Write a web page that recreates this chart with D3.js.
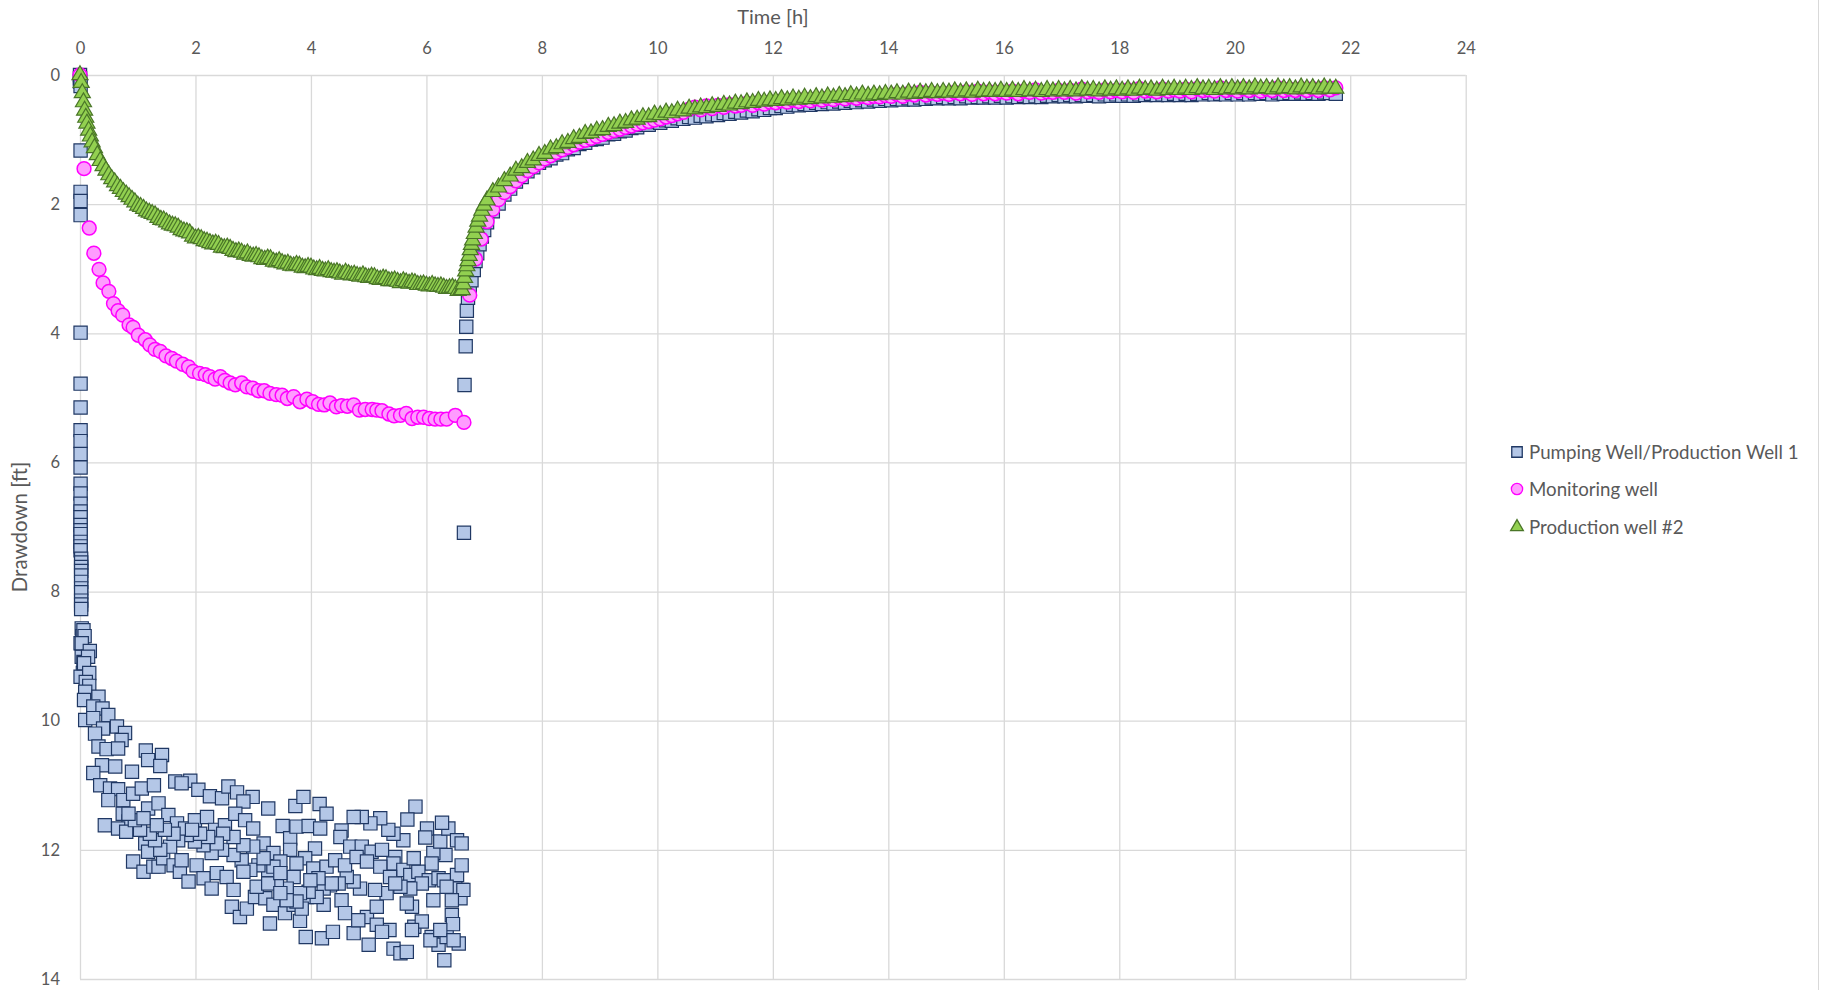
<!DOCTYPE html>
<html>
<head>
<meta charset="utf-8">
<script src="https://cdn.jsdelivr.net/npm/d3@7"></script>
<style>
  body { margin: 0; background: #fff; }
  text { font-family: Lato, "Open Sans", sans-serif; fill: #595959; }
</style>
</head>
<body>
<div id="chart"></div>
<script>
// axis ticks
var xTicks = [0, 2, 4, 6, 8, 10, 12, 14, 16, 18, 20, 22, 24];
var yTicks = [0, 2, 4, 6, 8, 10, 12, 14];

// Pumping well / production well 1 : [time h, drawdown ft]
var pumpEarly = [[0,0],[0,0.05],[0,0.1],[0.01,0.17],[0.01,1.17],[0.01,1.81],[0.01,1.95],[0.01,2.17],[0.01,3.99],
  [0.01,4.78],[0.01,5.15],[0.01,5.5],[0.01,5.67],[0.01,5.87],[0.01,6.08],[0.01,6.33],[0.01,6.48],[0.01,6.64],
  [0.01,6.76],[0.01,6.85],[0.01,6.97],[0.01,7.05],[0.01,7.11],[0.01,7.23],[0.01,7.3],[0.01,7.36],[0.02,7.49],
  [0.02,7.55],[0.02,7.62],[0.02,7.68],[0.02,7.75],[0.02,7.85],[0.02,7.95],[0.02,8.01],[0.02,8.14],[0.02,8.2],
  [0.02,8.27],[0.03,8.57],[0.04,8.69],[0.01,8.8],[0.06,8.92],[0.03,9.01],[0.06,9.09],[0.05,9.26],[0.01,9.32]];

var pumpCloud = [[0.06,8.6],[0.08,8.69],[0.03,8.8],[0.17,8.92],[0.14,9.01],[0.07,9.11],[0.16,9.26],[0.1,9.4],
  [0.16,9.46],[0.09,9.55],[0.32,9.63],[0.07,9.68],[0.23,9.78],[0.39,9.81],[0.49,9.91],[0.09,9.99],[0.23,9.96],
  [0.4,10.12],[0.64,10.09],[0.78,10.19],[0.72,10.3],[0.26,10.2],[0.32,10.4],[0.46,10.44],[0.66,10.43],[0.38,10.69],
  [0.61,10.71],[0.9,10.79],[0.23,10.81],[0.35,11],[0.52,11.05],[0.66,11.06],[0.49,11.23],[0.75,11.23],[0.92,11.13],
  [1.07,11.05],[1.28,11],[1.14,10.46],[1.18,10.61],[1.42,10.53],[1.39,10.7],[1.65,10.94],[1.91,10.93],[1.76,10.97],
  [2.05,11.07],[2.25,11.17],[2.46,11.2],[2.57,11.02],[2.72,11.11],[2.99,11.18],[2.83,11.25],[3.26,11.36],[3.73,11.32],
  [3.87,11.18],[4.15,11.29],[4.27,11.44],[0.74,11.44],[0.84,11.56],[0.98,11.67],[0.43,11.62],[0.66,11.67],[0.8,11.72],
  [1.13,11.9],[1.18,12.03],[0.92,12.18],[1.1,12.34],[1.27,12.26],[1.36,12.26],[1.44,12.13],[1.62,12.24],[1.73,12.34],
  [1.88,12.49],[2.02,12.24],[2.14,12.44],[2.28,12.6],[2.37,12.36],[2.54,12.42],[2.66,12.62],[2.63,12.88],[2.77,13.04],
  [2.89,12.91],[3.03,12.73],[3.21,12.75],[3.35,12.85],[3.29,13.14],[3.55,12.98],[3.7,12.85],[3.81,13.1],[3.93,12.73],
  [3.84,12.91],[3.91,13.35],[4.19,13.37],[4.38,13.27],[4.22,12.85],[4.53,12.78],[4.74,13.29],[5,13.47],[4.97,13.04],
  [5.14,12.88],[5.36,13.24],[5.43,13.53],[5.55,13.6],[5.66,13.58],[5.75,12.88],[5.79,13.19],[5.92,13.11],[6.09,13.35],
  [6.21,13.47],[6.31,13.71],[6.35,13.35],[6.44,13.01],[6.46,13.15],[6.56,13.45],[6.59,12.75],[6.61,12.62],[6.53,12.39],
  [6.61,12.24],[6.33,12.08],[6.12,12.05],[6.09,12.21],[6.24,11.87],[6.38,11.67],[6.27,11.58],[6.01,11.67],[5.98,11.81],
  [6.53,11.85],[6.61,11.9],[5.81,11.33],[5.67,11.53],[5.6,11.85],[5.43,11.75],[5.34,11.69],[5.2,11.51],[5.03,11.59],
  [4.88,11.49],[4.74,11.49],[4.53,11.7],[4.51,11.8],[4.68,11.95],[4.88,11.95],[5.05,12.03],[5.23,12],[5.46,12.11],
  [5.43,12.21],[5.6,12.31],[5.72,12.39],[5.86,12.34],[6.04,12.47],[6.21,12.44],[6.3,12.47],[6.5,12.6],[6.64,12.62],
  [5.92,12.52],[5.72,12.6],[5.55,12.57],[5.31,12.67],[5.11,12.62],[4.85,12.6],[4.74,12.49],[4.62,12.42],[4.48,12.52],
  [4.33,12.55],[4.22,12.6],[4.1,12.73],[3.96,12.65],[3.81,12.67],[3.7,12.42],[3.58,12.6],[3.41,12.47],[3.26,12.31],
  [3.09,12.24],[2.95,12.31],[2.8,12.16],[2.66,12.08],[2.46,12],[2.28,12.05],[2.14,11.93],[1.99,11.87],[1.85,11.77],
  [1.7,11.85],[1.56,11.95],[1.39,12],[1.3,11.85],[1.21,11.75],[1.04,11.69],[0.95,11.54],[0.84,11.44],[1.18,11.36],
  [1.36,11.28],[1.53,11.46],[1.68,11.59],[1.82,11.67],[1.99,11.54],[2.2,11.49],[2.34,11.69],[2.51,11.62],[2.69,11.44],
  [2.86,11.54],[3,11.67],[3.18,11.9],[3.35,12.05],[3.51,11.63],[3.64,11.82],[3.75,11.64],[3.96,11.63],[4.16,11.67],
  [4.07,11.98],[3.9,12.13],[3.75,12.21],[3.64,12],[3.47,12.18],[3.35,12.26],[3.18,12.13],[3,11.95],[2.83,11.93],
  [2.66,11.8],[2.48,11.75],[2.37,11.9],[2.22,11.8],[2.08,11.75],[1.94,11.69],[1.76,12.16],[1.62,11.75],[1.47,11.69],
  [1.33,11.62],[1.1,11.51],[2.83,12.34],[3.06,12.57],[3.26,12.52],[3.47,12.36],[4.04,12.29],[4.27,12.26],[4.42,12.16],
  [4.59,12.24],[4.79,12.11],[4.97,12.18],[5.2,12.26],[5.37,12.42],[5.46,12.52],[5.78,12.13],[6.12,12.78],[6.44,12.78],
  [6.35,12.57],[5.66,12.83],[5.75,13.24],[6.07,13.4],[6.24,13.24],[6.47,13.4],[4.59,12.98],[4.82,13.09],[5.14,13.16],
  [5.23,13.27],[4.36,12.52],[4.13,12.44],[3.99,12.47],[3.75,12.8],[3.58,12.78],[3.47,12.67]];

var pumpStep = [[6.65,7.09],[6.66,4.8],[6.68,4.2],[6.69,3.9],[6.7,3.65],[6.72,3.45],[6.75,3.33],[6.78,3.18],
  [6.82,3.02],[6.85,2.88],[6.88,2.76],[6.92,2.62],[6.96,2.5],[7,2.4]];

// Monitoring well
var monDrawdown = [[0,0],[0.07,1.45],[0.16,2.37],[0.24,2.76],[0.33,3.01],[0.4,3.22],[0.5,3.35],[0.58,3.54],
  [0.66,3.65],[0.74,3.72],[0.85,3.87],[0.92,3.91],[1.01,4.03],[1.13,4.1],[1.21,4.18],[1.3,4.25],[1.39,4.28],
  [1.49,4.35],[1.59,4.39],[1.67,4.43],[1.78,4.48],[1.88,4.52],[1.96,4.59],[2.07,4.62],[2.17,4.64],[2.25,4.67],
  [2.34,4.71],[2.43,4.67],[2.51,4.73],[2.6,4.77],[2.69,4.8],[2.8,4.77],[2.89,4.83],[2.99,4.85],[3.09,4.89],
  [3.19,4.89],[3.29,4.93],[3.4,4.95],[3.5,4.96],[3.59,5.01],[3.7,4.98],[3.81,5.06],[3.93,5.02],[4.03,5.06],
  [4.13,5.1],[4.23,5.11],[4.33,5.08],[4.44,5.14],[4.53,5.12],[4.63,5.13],[4.74,5.11],[4.84,5.19],[4.94,5.18],
  [5.06,5.18],[5.14,5.19],[5.23,5.2],[5.35,5.25],[5.44,5.28],[5.55,5.27],[5.65,5.24],[5.75,5.32],[5.85,5.3],
  [5.95,5.3],[6.05,5.32],[6.15,5.33],[6.25,5.33],[6.35,5.33],[6.5,5.27],[6.65,5.38]];
var monStep = [[6.75,3.41],[6.85,2.85],[6.95,2.54]];

// Production well #2
var prodDrawdown = [[0,0],[0.02,0.12],[0.04,0.28],[0.06,0.42],[0.08,0.55],[0.1,0.66],[0.12,0.75],[0.15,0.86],
  [0.18,0.95],[0.21,1.04],[0.25,1.13],[0.3,1.24],[0.35,1.33],[0.4,1.41],[0.45,1.48],[0.5,1.55],[0.55,1.61],
  [0.6,1.66],[0.65,1.72],[0.7,1.76],[0.75,1.81],[0.8,1.85],[0.85,1.89],[0.9,1.93],[0.95,1.97],[1,2.02],[1.05,2.04],
  [1.1,2.07],[1.15,2.11],[1.2,2.13],[1.25,2.15],[1.3,2.17],[1.35,2.21],[1.4,2.24],[1.45,2.25],[1.5,2.28],[1.55,2.31],
  [1.6,2.33],[1.65,2.34],[1.7,2.36],[1.75,2.4],[1.8,2.42],[1.85,2.43],[1.9,2.45],[1.95,2.5],[2,2.53],[2.05,2.52],
  [2.1,2.54],[2.15,2.57],[2.2,2.58],[2.25,2.6],[2.3,2.62],[2.35,2.61],[2.4,2.63],[2.45,2.67],[2.5,2.68],[2.55,2.67],
  [2.6,2.69],[2.65,2.72],[2.7,2.74],[2.75,2.73],[2.8,2.75],[2.85,2.78],[2.9,2.76],[2.95,2.8],[3,2.81],[3.05,2.8],
  [3.1,2.82],[3.15,2.85],[3.2,2.86],[3.25,2.84],[3.3,2.85],[3.35,2.89],[3.4,2.9],[3.45,2.88],[3.5,2.91],[3.55,2.93],
  [3.6,2.92],[3.65,2.95],[3.7,2.96],[3.75,2.94],[3.8,2.95],[3.85,2.98],[3.9,2.99],[3.95,2.97],[4,2.98],[4.05,3.01],
  [4.1,3.02],[4.15,3],[4.2,3.03],[4.25,3.04],[4.3,3.02],[4.35,3.05],[4.4,3.06],[4.45,3.05],[4.5,3.07],[4.55,3.09],
  [4.6,3.06],[4.65,3.08],[4.7,3.1],[4.75,3.09],[4.8,3.11],[4.85,3.12],[4.9,3.1],[4.95,3.13],[5,3.14],[5.05,3.12],
  [5.1,3.13],[5.15,3.16],[5.2,3.17],[5.25,3.15],[5.3,3.16],[5.35,3.19],[5.4,3.19],[5.45,3.18],[5.5,3.2],[5.55,3.22],
  [5.6,3.19],[5.65,3.21],[5.7,3.23],[5.75,3.21],[5.8,3.22],[5.85,3.25],[5.9,3.25],[5.95,3.24],[6,3.26],[6.05,3.27],
  [6.1,3.25],[6.15,3.27],[6.2,3.28],[6.25,3.27],[6.3,3.29],[6.35,3.31],[6.4,3.3],[6.45,3.29],[6.5,3.31],[6.55,3.34],
  [6.6,3.33]];
var prodStep = [[6.62,3.33],[6.64,3.24],[6.66,3.14],[6.68,3.04],[6.7,2.96],[6.72,2.88],[6.74,2.8],[6.76,2.71],
  [6.78,2.63],[6.8,2.56],[6.83,2.46],[6.86,2.36],[6.89,2.27],[6.92,2.19],[6.96,2.1],[7,2.02]];

// recovery, shared time base
var recoveryTime = [7.05,7.15,7.25,7.35,7.45,7.55,7.65,7.75,7.85,7.95,
  8.05,8.15,8.25,8.35,8.45,8.55,8.65,8.75,8.85,8.95, 9.05,9.15,9.25,9.35,9.45,9.55,9.65,9.75,9.85,9.95,
  10.05,10.15,10.25,10.35,10.45,10.55,10.65,10.75,10.85,10.95, 11.05,11.15,11.25,11.35,11.45,11.55,11.65,11.75,11.85,11.95,
  12.05,12.15,12.25,12.35,12.45,12.55,12.65,12.75,12.85,12.95, 13.05,13.15,13.25,13.35,13.45,13.55,13.65,13.75,13.85,13.95,
  14.05,14.15,14.25,14.35,14.45,14.55,14.65,14.75,14.85,14.95, 15.05,15.15,15.25,15.35,15.45,15.55,15.65,15.75,15.85,15.95,
  16.05,16.15,16.25,16.35,16.45,16.55,16.65,16.75,16.85,16.95, 17.05,17.15,17.25,17.35,17.45,17.55,17.65,17.75,17.85,17.95,
  18.05,18.15,18.25,18.35,18.45,18.55,18.65,18.75,18.85,18.95, 19.05,19.15,19.25,19.35,19.45,19.55,19.65,19.75,19.85,19.95,
  20.05,20.15,20.25,20.35,20.45,20.55,20.65,20.75,20.85,20.95, 21.05,21.15,21.25,21.35,21.45,21.55,21.65,21.75];

var pumpRecovery = [2.28,2.11,1.99,1.85,1.76,1.65,1.58,1.49,1.43,1.36,
  1.32,1.29,1.23,1.21,1.15,1.13,1.07,1.05,1,0.99, 0.97,0.92,0.91,0.87,0.86,0.82,0.81,0.77,0.77,0.73,
  0.74,0.7,0.71,0.67,0.68,0.65,0.66,0.63,0.64,0.61, 0.62,0.59,0.6,0.57,0.58,0.55,0.56,0.53,0.54,0.51,
  0.51,0.48,0.49,0.46,0.47,0.45,0.46,0.43,0.45,0.42, 0.44,0.41,0.43,0.4,0.42,0.39,0.41,0.38,0.4,0.37,
  0.39,0.37,0.38,0.36,0.38,0.35,0.37,0.35,0.36,0.34, 0.36,0.34,0.36,0.33,0.35,0.34,0.35,0.33,0.35,0.32,
  0.35,0.33,0.34,0.32,0.34,0.33,0.34,0.32,0.33,0.31, 0.33,0.31,0.33,0.31,0.32,0.31,0.33,0.3,0.32,0.3,
  0.32,0.3,0.32,0.3,0.31,0.29,0.31,0.3,0.31,0.29, 0.31,0.29,0.31,0.29,0.3,0.28,0.3,0.29,0.3,0.28,
  0.3,0.28,0.3,0.28,0.29,0.28,0.3,0.27,0.29,0.28, 0.29,0.27,0.29,0.28,0.29,0.27,0.28,0.29];

var monRecovery = [2.27,2.08,1.93,1.82,1.73,1.64,1.56,1.48,1.42,1.36,
  1.3,1.25,1.2,1.16,1.12,1.08,1.04,1.01,0.98,0.95, 0.92,0.89,0.86,0.84,0.81,0.79,0.76,0.74,0.72,0.7,
  0.68,0.65,0.63,0.6,0.58,0.53,0.5,0.54,0.48,0.52, 0.47,0.5,0.46,0.48,0.47,0.44,0.47,0.43,0.45,0.42,
  0.43,0.4,0.42,0.39,0.41,0.38,0.4,0.37,0.39,0.36, 0.38,0.35,0.37,0.34,0.36,0.33,0.35,0.33,0.34,0.32,
  0.33,0.3,0.33,0.29,0.31,0.27,0.31,0.28,0.3,0.28, 0.3,0.27,0.29,0.26,0.3,0.25,0.29,0.26,0.29,0.26,
  0.28,0.25,0.29,0.25,0.27,0.23,0.28,0.26,0.27,0.24, 0.27,0.24,0.28,0.22,0.26,0.25,0.27,0.23,0.26,0.24,
  0.26,0.23,0.27,0.21,0.25,0.24,0.26,0.22,0.25,0.23, 0.25,0.22,0.26,0.21,0.24,0.23,0.25,0.2,0.24,0.22,
  0.25,0.21,0.24,0.21,0.25,0.22,0.24,0.2,0.24,0.22, 0.24,0.21,0.24,0.21,0.24,0.2,0.23,0.2];

var prodRecovery = [1.94,1.81,1.74,1.64,1.57,1.48,1.44,1.36,1.32,1.25,
  1.22,1.15,1.13,1.07,1.05,0.99,0.97,0.91,0.9,0.86, 0.85,0.8,0.79,0.75,0.74,0.7,0.69,0.65,0.65,0.61,
  0.62,0.58,0.59,0.55,0.56,0.52,0.53,0.5,0.51,0.48, 0.49,0.46,0.47,0.44,0.45,0.42,0.43,0.4,0.41,0.39,
  0.4,0.37,0.39,0.36,0.38,0.35,0.37,0.34,0.36,0.33, 0.35,0.32,0.34,0.31,0.33,0.3,0.32,0.3,0.31,0.29,
  0.3,0.28,0.3,0.27,0.29,0.27,0.28,0.26,0.28,0.26, 0.27,0.25,0.27,0.25,0.27,0.24,0.26,0.25,0.26,0.24,
  0.26,0.24,0.26,0.23,0.25,0.24,0.26,0.23,0.25,0.23, 0.25,0.23,0.25,0.22,0.24,0.23,0.25,0.22,0.24,0.22,
  0.24,0.22,0.24,0.21,0.23,0.22,0.24,0.21,0.23,0.21, 0.23,0.21,0.23,0.2,0.22,0.21,0.23,0.2,0.22,0.2,
  0.22,0.2,0.22,0.19,0.21,0.2,0.22,0.19,0.21,0.2, 0.22,0.19,0.21,0.2,0.22,0.19,0.21,0.21];

var seriesNames = ["Pumping Well/Production Well 1", "Monitoring well", "Production well #2"];

// ---------------------------------------------------------------
var W = 1822, H = 990;
var plotLeft = 80, plotTop = 75, plotRight = 1465.7, plotBottom = 979;

var x = d3.scaleLinear().domain([0, 24]).range([plotLeft, plotRight]);
var y = d3.scaleLinear().domain([0, 14]).range([plotTop, plotBottom]);

function withTime(vals) {
    return vals.map(function(v, i) { return [recoveryTime[i], v]; });
}

var pumping = pumpEarly.concat(pumpCloud, pumpStep, withTime(pumpRecovery));
var monitoring = monDrawdown.concat(monStep, withTime(monRecovery));
var production = prodDrawdown.concat(prodStep, withTime(prodRecovery));

var svg = d3.select("#chart").append("svg")
    .attr("width", W)
    .attr("height", H);

// grid + labels via axes
var xAxis = svg.append("g")
    .attr("transform", "translate(0," + plotTop + ")")
    .call(d3.axisTop(x).tickValues(xTicks).tickSize(-(plotBottom - plotTop)).tickPadding(21));
var yAxis = svg.append("g")
    .attr("transform", "translate(" + plotLeft + ",0)")
    .call(d3.axisLeft(y).tickValues(yTicks).tickSize(-(plotRight - plotLeft)).tickPadding(20));

[xAxis, yAxis].forEach(function(g) {
    g.select(".domain").remove();
    g.selectAll(".tick line").attr("stroke", "#d9d9d9").attr("stroke-width", 1.3);
    g.selectAll(".tick text")
        .style("font-family", "Lato, 'Open Sans', sans-serif")
        .style("font-size", "16.5px")
        .attr("fill", "#595959");
});

// chart area edge on the right
svg.append("line")
    .attr("x1", 1818.5).attr("x2", 1818.5)
    .attr("y1", 0).attr("y2", H)
    .attr("stroke", "#d9d9d9");

// axis titles
svg.append("text")
    .attr("x", 773).attr("y", 24)
    .attr("text-anchor", "middle")
    .style("font-size", "20px")
    .text("Time [h]");

svg.append("text")
    .attr("transform", "translate(27," + ((plotTop + plotBottom) / 2) + ") rotate(-90)")
    .attr("text-anchor", "middle")
    .style("font-size", "20.5px")
    .text("Drawdown [ft]");

// markers
var sq = d3.symbol().type(d3.symbolSquare).size(175);
var circ = d3.symbol().type(d3.symbolCircle).size(150);
var tri = d3.symbol().type(d3.symbolTriangle).size(112);

svg.append("g").selectAll("path")
    .data(pumping)
    .enter().append("path")
    .attr("d", sq)
    .attr("transform", function(d) { return "translate(" + x(d[0]) + "," + y(d[1]) + ")"; })
    .attr("fill", "#b4c7e7")
    .attr("stroke", "#203864")
    .attr("stroke-width", 1.2);

svg.append("g").selectAll("path")
    .data(monitoring)
    .enter().append("path")
    .attr("d", circ)
    .attr("transform", function(d) { return "translate(" + x(d[0]) + "," + y(d[1]) + ")"; })
    .attr("fill", "#ff9bff")
    .attr("stroke", "#ff00ff")
    .attr("stroke-width", 1.5);

svg.append("g").selectAll("path")
    .data(production)
    .enter().append("path")
    .attr("d", tri)
    .attr("transform", function(d) { return "translate(" + x(d[0]) + "," + y(d[1]) + ")"; })
    .attr("fill", "#92d050")
    .attr("stroke", "#4a7628")
    .attr("stroke-width", 1.2);

// legend
var legendY = [452, 489, 527];
var legendSym = [
    {sym: d3.symbol().type(d3.symbolSquare).size(110), fill: "#b4c7e7", stroke: "#203864"},
    {sym: d3.symbol().type(d3.symbolCircle).size(100), fill: "#ff9bff", stroke: "#ff00ff"},
    {sym: d3.symbol().type(d3.symbolTriangle).size(70), fill: "#92d050", stroke: "#4a7628"}
];

var legend = svg.append("g");
seriesNames.forEach(function(name, i) {
    legend.append("path")
        .attr("d", legendSym[i].sym)
        .attr("transform", "translate(1517," + legendY[i] + ")")
        .attr("fill", legendSym[i].fill)
        .attr("stroke", legendSym[i].stroke)
        .attr("stroke-width", 1.3);
    legend.append("text")
        .attr("x", 1529).attr("y", legendY[i])
        .attr("dy", "0.35em")
        .style("font-size", "18.7px")
        .text(name);
});
</script>
</body>
</html>
